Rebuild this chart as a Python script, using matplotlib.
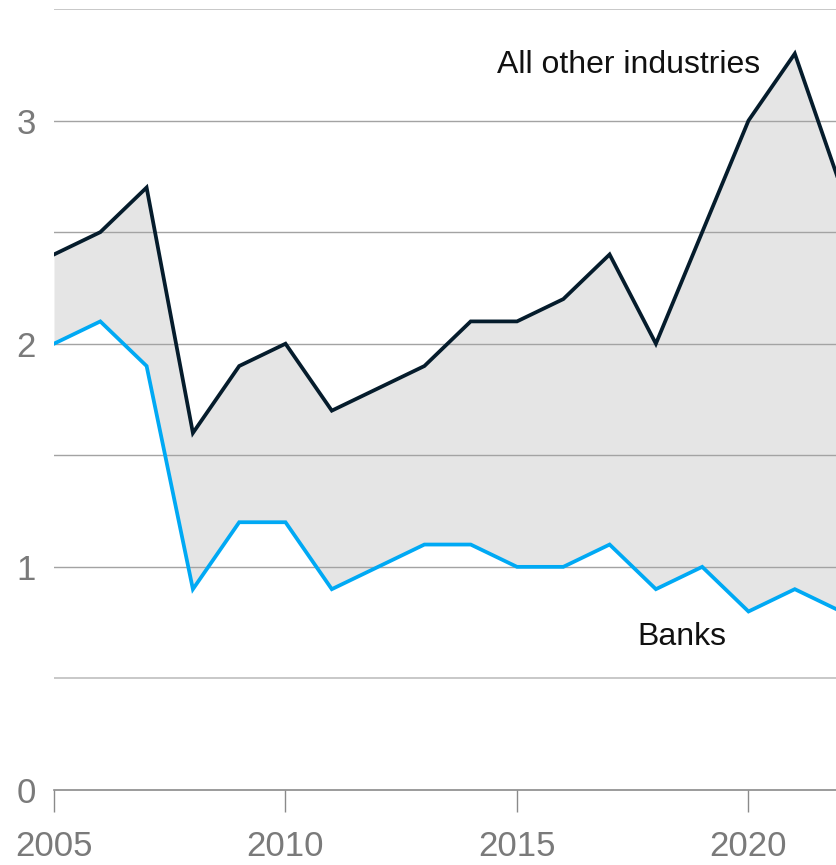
import matplotlib
import matplotlib.pyplot as plt

matplotlib.use("Agg")

years = list(range(2005, 2023))
other_industries = [2.4, 2.5, 2.7, 1.6, 1.9, 2.0, 1.7, 1.8, 1.9, 2.1,
                    2.1, 2.2, 2.4, 2.0, 2.5, 3.0, 3.3, 2.7]
banks = [2.0, 2.1, 1.9, 0.9, 1.2, 1.2, 0.9, 1.0, 1.1, 1.1,
         1.0, 1.0, 1.1, 0.9, 1.0, 0.8, 0.9, 0.8]
x_ticks = [2005, 2010, 2015, 2020]
y_ticks = [0, 1, 2, 3]

NAVY = "#051c2c"
CYAN = "#00a9f4"
GREY_TXT = "#7a7a7a"

plt.rcParams["font.family"] = ["Liberation Sans", "DejaVu Sans"]

fig = plt.figure(figsize=(8.36, 8.65), dpi=100)
ax = fig.add_axes([54 / 836, 1 - 790 / 865, 1 - 54 / 836, (790 - 9) / 865])

ax.fill_between(years, banks, other_industries, color="#e5e5e5", lw=0, zorder=1)
ax.plot(years, other_industries, color=NAVY, lw=2.7, zorder=3,
        solid_joinstyle="miter")
ax.plot(years, banks, color=CYAN, lw=2.7, zorder=3, solid_joinstyle="miter")

# gridlines
for v in [0.5, 1, 1.5, 2, 2.5, 3, 3.5]:
    light = v in (0.5, 3.5)
    ax.axhline(v, color="#c8c8c8" if light else "#a3a3a3",
               lw=1.4 if light else 1.0, zorder=2)

ax.set_xlim(2005, 2005 + (836 - 54) / 46.3)
ax.set_ylim(0, 3.5)

for s in ["top", "right", "left"]:
    ax.spines[s].set_visible(False)
ax.spines["bottom"].set_color("#8a8a8a")
ax.spines["bottom"].set_linewidth(1.2)
ax.spines["bottom"].set_zorder(4)

ax.set_xticks(x_ticks)
ax.set_xticklabels([str(t) for t in x_ticks])
ax.set_yticks(y_ticks)
ax.set_yticklabels([str(t) for t in y_ticks])
ax.tick_params(axis="x", length=16, width=1.0, color="#8a8a8a",
               labelsize=25, labelcolor=GREY_TXT, pad=13)
ax.tick_params(axis="y", length=0, labelsize=25, labelcolor=GREY_TXT, pad=13)

ax.text(2014.57, 3.25, "All other industries", fontsize=23, color="#111111",
        va="center", ha="left", zorder=5)
ax.text(2017.61, 0.685, "Banks", fontsize=23, color="#111111",
        va="center", ha="left", zorder=5)

fig.savefig("out.png", dpi=100)
